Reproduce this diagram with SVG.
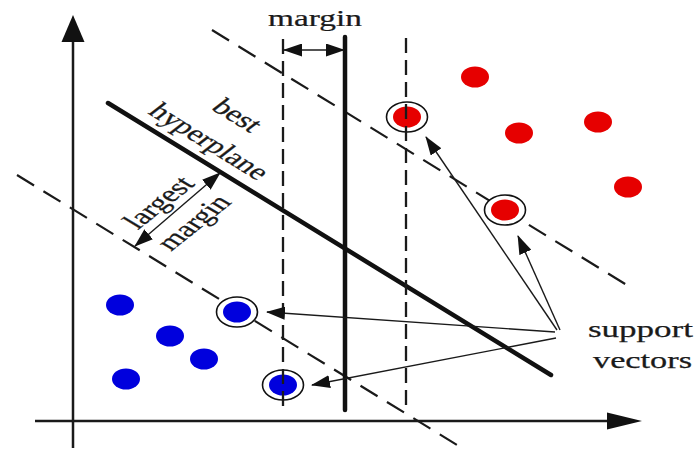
<svg xmlns="http://www.w3.org/2000/svg" width="695" height="451" viewBox="0 0 695 451">
<style>
  .txt { font-family: "Liberation Serif", "DejaVu Serif", serif; font-size: 23px; fill: #1a1a1a; stroke: #1a1a1a; stroke-width: 0.25; }
  .axis { stroke: #1a1a1a; stroke-width: 2.5; fill: none; }
  .dash { stroke: #1a1a1a; stroke-width: 2.3; stroke-dasharray: 15 7; fill: none; }
  .ddash { stroke: #1a1a1a; stroke-width: 2.2; stroke-dasharray: 20 11; fill: none; }
  .thick { stroke: #111; stroke-width: 4.5; fill: none; stroke-linecap: round; }
  .thin { stroke: #1a1a1a; stroke-width: 1.4; fill: none; }
  .red { fill: #e60000; }
  .blue { fill: #0000dd; }
  .ring { fill: #fff; stroke: #111; stroke-width: 1.6; }
  .head { fill: #111; }
</style>
<defs>
  <marker id="arr" markerUnits="userSpaceOnUse" markerWidth="19" markerHeight="13" refX="18" refY="6.5" orient="auto-start-reverse">
    <path d="M0,0 L19,6.5 L0,13 z" fill="#111"/>
  </marker>
</defs>
<rect width="695" height="451" fill="#fff"/>

<g id="axes">
  <line class="axis" x1="35" y1="421" x2="612" y2="421"/>
  <polygon class="head" points="642,421 607,412.5 607,429.5"/>
  <line class="axis" x1="73" y1="448" x2="73" y2="40"/>
  <polygon class="head" points="73,15 61.5,42 84.5,42"/>
</g>

<g id="margins-diagonal">
  <line class="ddash" x1="212" y1="30" x2="630" y2="287"/>
  <line class="ddash" x1="17" y1="175" x2="462" y2="448"/>
</g>

<g id="hyperplane">
  <line class="thick" x1="108" y1="103" x2="551" y2="375"/>
</g>

<g id="red-points">
  <ellipse class="red" cx="475" cy="77" rx="14" ry="10.5"/>
  <ellipse class="red" cx="519" cy="133" rx="14" ry="10.5"/>
  <ellipse class="red" cx="598" cy="122" rx="14" ry="10.5"/>
  <ellipse class="red" cx="628" cy="187" rx="14" ry="10.5"/>
</g>
<g id="blue-points">
  <ellipse class="blue" cx="120" cy="305" rx="14" ry="10.5"/>
  <ellipse class="blue" cx="170" cy="336" rx="14" ry="10.5"/>
  <ellipse class="blue" cx="204" cy="359" rx="14" ry="10.5"/>
  <ellipse class="blue" cx="126" cy="379" rx="14" ry="10.5"/>
</g>

<g id="sv-red-1">
  <ellipse class="ring" cx="407" cy="117" rx="20.5" ry="15"/>
  <ellipse class="red" cx="407" cy="117" rx="14" ry="10.5"/>
</g>
<g id="sv-red-2">
  <ellipse class="ring" cx="505" cy="210" rx="20.5" ry="15"/>
  <ellipse class="red" cx="505" cy="210" rx="14" ry="10.5"/>
</g>
<g id="sv-blue-1">
  <ellipse class="ring" cx="237" cy="312" rx="20.5" ry="15"/>
  <ellipse class="blue" cx="237" cy="312" rx="14" ry="10.5"/>
</g>
<g id="sv-blue-2">
  <ellipse class="ring" cx="283" cy="385" rx="20.5" ry="15"/>
  <ellipse class="blue" cx="283" cy="385" rx="14" ry="10.5"/>
</g>

<g id="margins-vertical">
  <line class="dash" x1="283" y1="39" x2="283" y2="410"/>
  <line class="dash" x1="406" y1="38" x2="406" y2="410"/>
  <line class="thick" x1="345" y1="37" x2="345" y2="410" stroke-width="5" stroke-linecap="butt"/>
</g>

<g id="connectors">
  <line class="thin" x1="284" y1="50" x2="344" y2="50" marker-start="url(#arr)" marker-end="url(#arr)"/>
  <line class="thin" x1="220" y1="173" x2="135" y2="246" marker-start="url(#arr)" marker-end="url(#arr)"/>
  <line class="thin" x1="557" y1="330" x2="426" y2="137" marker-end="url(#arr)"/>
  <line class="thin" x1="560" y1="330" x2="518" y2="236" marker-end="url(#arr)"/>
  <line class="thin" x1="555" y1="332" x2="267" y2="312" marker-end="url(#arr)"/>
  <line class="thin" x1="556" y1="338" x2="312" y2="385" marker-end="url(#arr)"/>
</g>

<g id="label-margin">
  <text class="txt" transform="translate(315,26) scale(1.45,1)" text-anchor="middle">margin</text>
</g>
<g id="label-best-hyperplane">
  <text class="txt" transform="translate(238,115) scale(1.45,1) rotate(41.7)" text-anchor="middle" dominant-baseline="central">best</text>
  <text class="txt" transform="translate(210,141) scale(1.45,1) rotate(41.7)" text-anchor="middle" dominant-baseline="central">hyperplane</text>
</g>
<g id="label-largest-margin">
  <text class="txt" transform="translate(158,202) scale(1.45,1) rotate(-49)" text-anchor="middle" dominant-baseline="central">largest</text>
  <text class="txt" transform="translate(193,222) scale(1.45,1) rotate(-49)" text-anchor="middle" dominant-baseline="central">margin</text>
</g>
<g id="label-support-vectors">
  <text class="txt" x="588" y="337" font-size="24" textLength="105" lengthAdjust="spacingAndGlyphs">support</text>
  <text class="txt" x="593" y="368" font-size="24" textLength="99" lengthAdjust="spacingAndGlyphs">vectors</text>
</g>
</svg>
